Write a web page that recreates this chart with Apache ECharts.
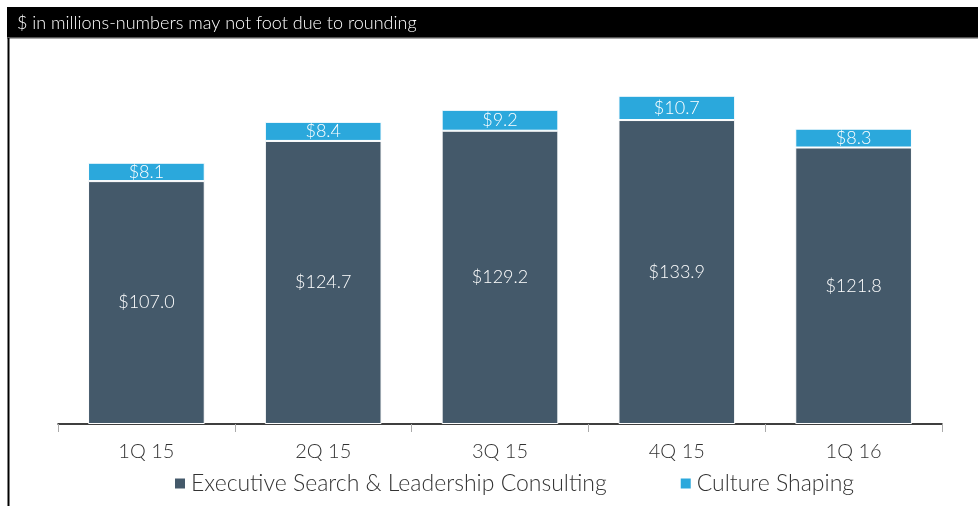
<!DOCTYPE html>
<html>
<head>
<meta charset="utf-8">
<script src="https://cdn.jsdelivr.net/npm/echarts@6/dist/echarts.min.js"></script>
<style>
  html, body { margin: 0; padding: 0; background: #fff; }
  #chart { width: 978px; height: 506px; }
</style>
</head>
<body>
<div id="chart"></div>
<script>
// quarters and revenue by segment ($ millions)
const quarters = ['1Q 15', '2Q 15', '3Q 15', '4Q 15', '1Q 16'];
const execSearch = [107.0, 124.7, 129.2, 133.9, 121.8];
const cultureShaping = [8.1, 8.4, 9.2, 10.7, 8.3];

const chart = echarts.init(document.getElementById('chart'));
const font = 'Lato, "Open Sans", sans-serif';

const option = {
    animation: false,
    textStyle: { fontFamily: font },
    graphic: [
        {
            type: 'rect',
            shape: { x: 7, y: 7, width: 971, height: 30 },
            style: { fill: '#000' }
        },
        {
            type: 'rect',
            shape: { x: 7, y: 37, width: 971, height: 1.5 },
            style: { fill: '#555' }
        },
        {
            type: 'rect',
            shape: { x: 7.5, y: 38, width: 2, height: 468 },
            style: { fill: '#000' }
        },
        {
            type: 'text',
            left: 17,
            top: 14,
            style: {
                text: '$ in millions-numbers may not foot due to rounding',
                fill: '#fff',
                font: '300 18px ' + font
            }
        }
    ],
    legend: {
        top: 467,
        left: 168,
        itemWidth: 12,
        itemHeight: 12,
        itemGap: 72,
        icon: 'rect',
        textStyle: { fontSize: 23, color: '#333', fontWeight: 300 },
        data: ['Executive Search & Leadership Consulting', 'Culture Shaping']
    },
    grid: { left: 58, right: 36, top: 83.5, bottom: 82 },
    xAxis: {
        type: 'category',
        data: quarters,
        axisLine: { lineStyle: { color: '#000', width: 1.5 } },
        axisTick: { show: true, length: 8, lineStyle: { color: '#aaa' } },
        axisLabel: { fontSize: 20, color: '#333', margin: 18, fontWeight: 300 }
    },
    yAxis: {
        type: 'value',
        min: 0,
        max: 150,
        show: false,
        splitLine: { show: false }
    },
    series: [
        {
            name: 'Executive Search & Leadership Consulting',
            type: 'bar',
            stack: 'rev',
            barWidth: '66%',
            data: execSearch,
            itemStyle: { color: '#44596a', borderColor: '#fff', borderWidth: 1 },
            label: {
                show: true,
                position: 'inside',
                color: '#fff',
                fontSize: 18,
                fontWeight: 300,
                formatter: p => '$' + p.value.toFixed(1)
            }
        },
        {
            name: 'Culture Shaping',
            type: 'bar',
            stack: 'rev',
            data: cultureShaping,
            itemStyle: { color: '#2ba8dc', borderColor: '#fff', borderWidth: 1 },
            label: {
                show: true,
                position: 'inside',
                color: '#fff',
                fontSize: 18,
                fontWeight: 300,
                formatter: p => '$' + p.value.toFixed(1)
            }
        }
    ]
};

chart.setOption(option);
</script>
</body>
</html>
